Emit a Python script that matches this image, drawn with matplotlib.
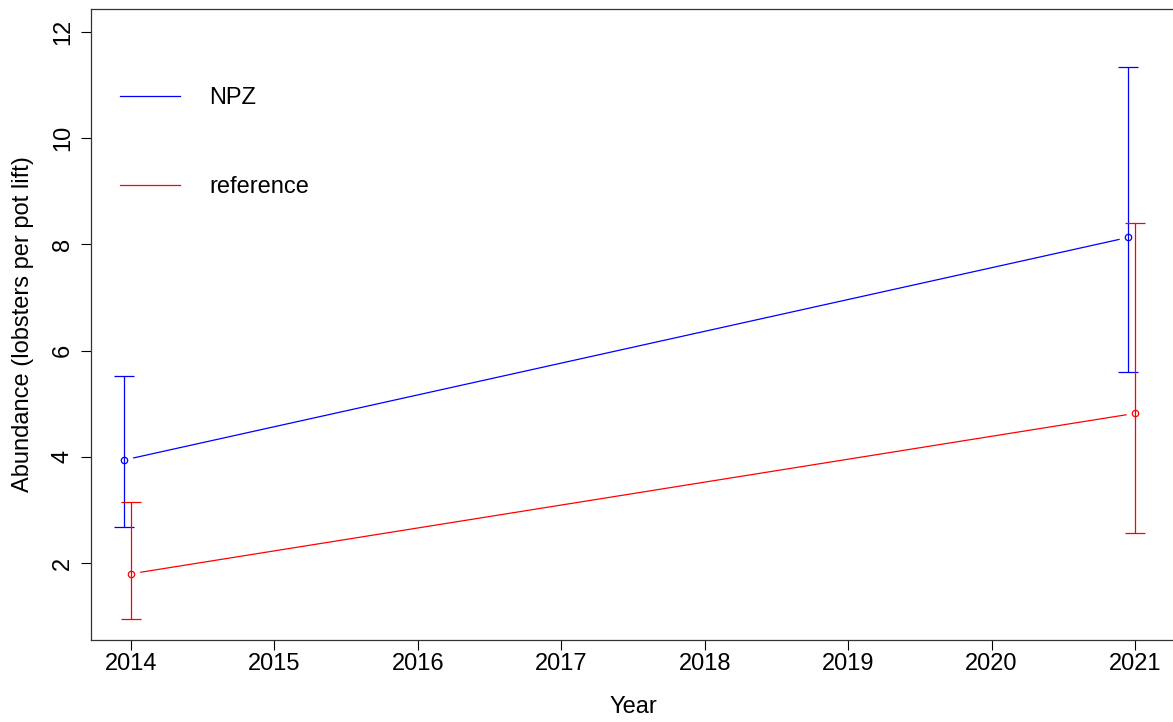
import matplotlib
matplotlib.use("Agg")
import matplotlib.pyplot as plt
from matplotlib.lines import Line2D
import numpy as np

# Survey years and groups
years = [2014, 2021]
groups = ["NPZ", "reference"]

# Mean abundance with lower / upper confidence limits
npz_mean = [3.94, 8.13]
npz_lower = [2.69, 5.59]
npz_upper = [5.52, 11.33]

ref_mean = [1.80, 4.82]
ref_lower = [0.945, 2.57]
ref_upper = [3.15, 8.41]

x_ticks = [2014, 2015, 2016, 2017, 2018, 2019, 2020, 2021]
y_ticks = [2, 4, 6, 8, 10, 12]

series = {
    "NPZ": dict(mean=npz_mean, lower=npz_lower, upper=npz_upper,
                color="#0000FF", dodge=-0.05),
    "reference": dict(mean=ref_mean, lower=ref_lower, upper=ref_upper,
                      color="#FF0000", dodge=0.0),
}

plt.rcParams["font.family"] = ["Liberation Sans", "DejaVu Sans"]
FS = 17

W, H = 1173, 722
fig = plt.figure(figsize=(W / 100, H / 100), dpi=100)
left, right, top, bottom = 90.7, 1175.2, 8.5, 639.7
ax = fig.add_axes([left / W, (H - bottom) / H, (right - left) / W, (bottom - top) / H])

ax.set_xlim(2013.72, 2021.28)
ax.set_ylim(0.56, 12.44)

lw = 0.9
# connecting lines, with a blank gap around each point (type "b")
for name in groups:
    s = series[name]
    x = np.array(years) + s["dodge"]
    ax.plot(x, s["mean"], color=s["color"], lw=lw, zorder=1)
    ax.plot(x, s["mean"], "o", ms=13, mfc="white", mec="none", zorder=2)

for name in groups:
    s = series[name]
    x = np.array(years) + s["dodge"]
    m = np.array(s["mean"])
    yerr = [m - np.array(s["lower"]), np.array(s["upper"]) - m]
    ax.errorbar(x, m, yerr=yerr, fmt="none", ecolor=s["color"],
                elinewidth=lw, capsize=7.2, capthick=lw, zorder=3)
    ax.plot(x, m, "o", ms=4.6, mfc="none", mec=s["color"], mew=lw, zorder=4)

ax.set_xticks(x_ticks)
ax.set_yticks(y_ticks)
ax.tick_params(axis="both", labelsize=FS, length=7.2, width=0.8, direction="out",
               colors="black")
ax.tick_params(axis="x", pad=2.6)
ax.tick_params(axis="y", pad=5.0)
for lab in ax.get_yticklabels():
    lab.set_rotation(90)
    lab.set_va("center")

for sp in ["top", "left", "bottom", "right"]:
    ax.spines[sp].set_color("#333333")
    ax.spines[sp].set_linewidth(0.9)

ax.set_xlabel("Year", fontsize=FS)
ax.xaxis.set_label_coords(0.5, -0.089)
ax.set_ylabel("Abundance (lobsters per pot lift)", fontsize=FS)
ax.yaxis.set_label_coords(-0.0525, 0.5)

handles = [Line2D([], [], color=series[g]["color"], lw=lw) for g in groups]
ax.legend(handles, groups, loc="upper left",
          bbox_to_anchor=(120 / W, 1 - 87.3 / H), bbox_transform=fig.transFigure,
          frameon=False, fontsize=FS, borderpad=0, borderaxespad=0,
          handlelength=2.54, handletextpad=1.24, labelspacing=2.82)

fig.savefig("out.png", dpi=100)
